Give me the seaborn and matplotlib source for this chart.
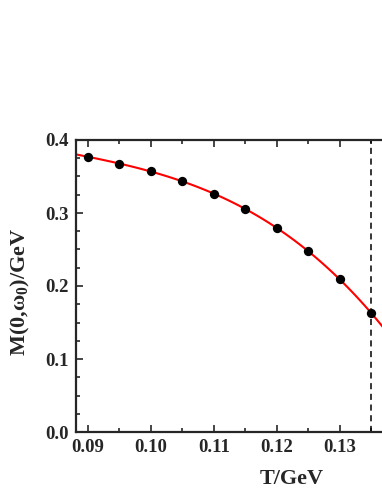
import matplotlib
matplotlib.use('Agg')
import matplotlib.pyplot as plt
import seaborn as sns
import pandas as pd
from matplotlib.ticker import MultipleLocator, FormatStrFormatter

# values
T = [0.090, 0.095, 0.100, 0.105, 0.110, 0.115, 0.120, 0.125, 0.130, 0.135]
M = [0.377, 0.3675, 0.357, 0.3435, 0.3265, 0.305, 0.279, 0.248, 0.209, 0.1625]
T_c = 0.135

data = pd.DataFrame({'T': T, 'M': M})

sns.set_style('ticks')
plt.rcParams['font.family'] = ['Liberation Serif', 'DejaVu Serif']
plt.rcParams['font.weight'] = 'bold'
plt.rcParams['mathtext.fontset'] = 'custom'
plt.rcParams['mathtext.rm'] = 'Liberation Serif:bold'
plt.rcParams['mathtext.it'] = 'Liberation Serif:bold'
plt.rcParams['mathtext.bf'] = 'Liberation Serif:bold'

fig = plt.figure(figsize=(3.82, 4.94), dpi=100)
ax_w = 1.02 - 76 / 382
ax = fig.add_axes([76 / 382, 62 / 494, ax_w, 292 / 494])

ax.set_xlim(0.0881, 0.1379)
ax.set_ylim(0.0, 0.4)

# fitted curve, then the points
sns.regplot(data=data, x='T', y='M', order=3, ci=None, truncate=False,
            scatter=False, line_kws={'color': 'red', 'lw': 1.5}, ax=ax)
sns.scatterplot(data=data, x='T', y='M', color='black', s=45, linewidth=0,
                zorder=5, ax=ax)
ax.axvline(T_c, color='black', lw=1.1, ls=(0, (4, 3)))

ax.xaxis.set_major_locator(MultipleLocator(0.01))
ax.xaxis.set_minor_locator(MultipleLocator(0.005))
ax.yaxis.set_major_locator(MultipleLocator(0.1))
ax.yaxis.set_minor_locator(MultipleLocator(0.025))
ax.xaxis.set_major_formatter(FormatStrFormatter('%.2f'))
ax.yaxis.set_major_formatter(FormatStrFormatter('%.1f'))
ax.tick_params(which='both', direction='in', top=True, right=False, width=1.2,
               labelsize=13.5, pad=5)
ax.tick_params(which='major', length=5)
ax.tick_params(which='minor', length=3)
for s in ax.spines.values():
    s.set_linewidth(1.6)
    s.set_visible(True)

ax.set_xlabel('T/GeV', fontsize=16, fontweight='bold')
ax.xaxis.set_label_coords((292 - 76) / (382 * ax_w), -0.125)
ax.set_ylabel('M(0,ω$_{0}$)/GeV', fontsize=16, fontweight='bold')
ax.yaxis.set_label_coords(-0.14, 0.48)

fig.savefig('out.png', dpi=100)
